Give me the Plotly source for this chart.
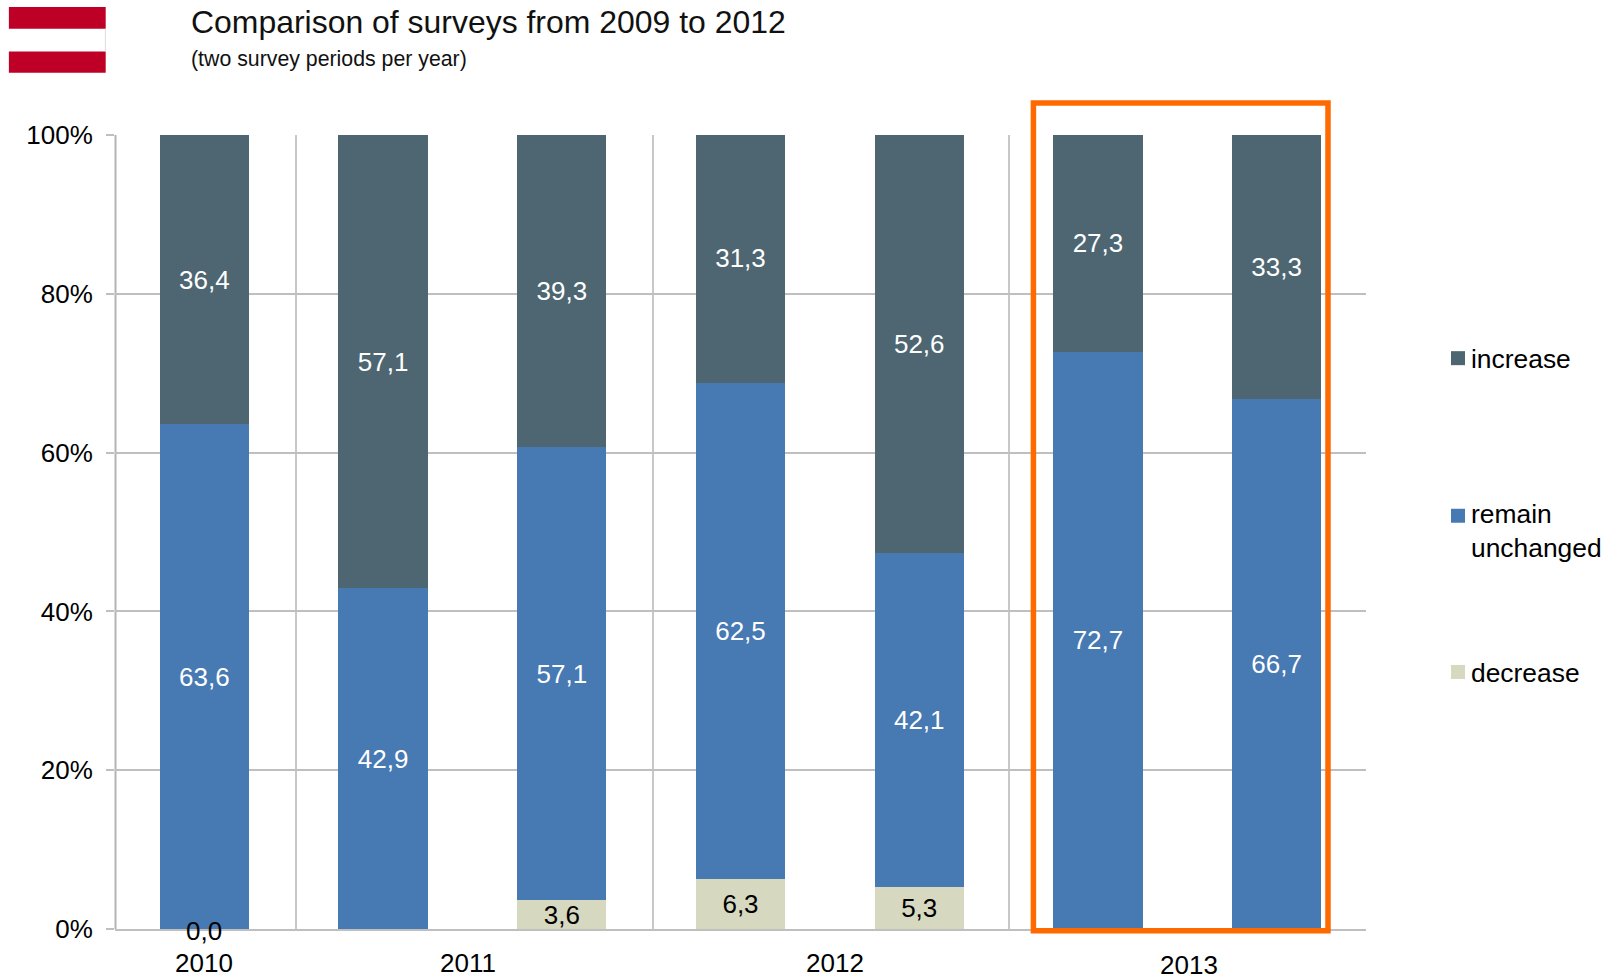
import plotly.graph_objects as go

W, H = 1615, 979
L, R, T, B = 115.3, 1366.0, 135.0, 929.5

bar_positions = [0, 1, 2, 3, 4, 5, 6]
increase = [36.4, 57.1, 39.3, 31.3, 52.6, 27.3, 33.3]
remain = [63.6, 42.9, 57.1, 62.5, 42.1, 72.7, 66.7]
decrease = [0.0, None, 3.6, 6.3, 5.3, None, None]
year_labels = ["2010", "2011", "2012", "2013"]
year_positions = [0.0, 1.474, 3.527, 5.51]
year_label_y = [963.7, 963.7, 963.7, 966]
year_separators = [0.51, 2.51, 4.505]
y_ticks = [0, 20, 40, 60, 80, 100]
y_tick_labels = ["0%", "20%", "40%", "60%", "80%", "100%"]
series_names = ["increase", "remain<br>unchanged", "decrease"]
legend_swatch_y = [358.3, 516, 672.3]
legend_text_y = [359, 531, 673]

C_INC, C_REM, C_DEC = "#4D6672", "#4779B3", "#D6D9C0"
C_GRID = "#BFBFBF"
FONT = "Liberation Sans"


def px(x):
    return (x - L) / (R - L)


def py(y):
    return (B - y) / (B - T)


def lab(v):
    return [("" if (a is None or a == 0) else f"{a:.1f}".replace(".", ",")) for a in v]


fig = go.Figure()
for name, vals, color, tcolor in [
    ("decrease", decrease, C_DEC, "black"),
    ("remain unchanged", remain, C_REM, "white"),
    ("increase", increase, C_INC, "white"),
]:
    fig.add_trace(go.Bar(
        x=bar_positions, y=vals, name=name, width=0.5,
        marker=dict(color=color, line=dict(width=0)),
        text=lab(vals), textposition="inside", insidetextanchor="middle",
        textangle=0, constraintext="none",
        textfont=dict(family=FONT, size=26, color=tcolor),
        hoverinfo="skip",
    ))

shapes = [
    dict(type="rect", xref="paper", yref="paper", x0=px(9.2), x1=px(106), y0=py(28.7), y1=py(7),
         fillcolor="#BE0027", line_width=0, layer="above"),
    dict(type="rect", xref="paper", yref="paper", x0=px(9.2), x1=px(106), y0=py(72.7), y1=py(51.5),
         fillcolor="#BE0027", line_width=0, layer="above"),
    dict(type="line", xref="paper", yref="paper", x0=px(105.7), x1=px(105.7), y0=py(51.5), y1=py(28.7),
         line=dict(color="#DDDDDD", width=1), layer="above"),
    dict(type="line", xref="paper", yref="paper", x0=px(115.8), x1=px(115.8), y0=0, y1=1,
         line=dict(color="#B4B4B4", width=2), layer="below"),
    dict(type="rect", xref="paper", yref="paper", x0=px(1033.5), x1=px(1328), y0=py(931.3), y1=py(103),
         fillcolor="rgba(0,0,0,0)", line=dict(color="#FF6A00", width=5.5), layer="above"),
]

annotations = [
    dict(xref="paper", yref="paper", x=px(189), y=py(59), xanchor="left", yanchor="middle", showarrow=False,
         text="(two survey periods per year)", font=dict(family=FONT, size=21.3, color="#111111")),
    dict(xref="x", yref="y", x=bar_positions[0], y=decrease[0], yanchor="middle", showarrow=False, yshift=-2,
         text=f"{decrease[0]:.1f}".replace(".", ","), font=dict(family=FONT, size=26, color="black")),
]
for t, xp, yp in zip(year_labels, year_positions, year_label_y):
    annotations.append(dict(
        xref="x", yref="paper", x=xp, y=py(yp), yanchor="middle", showarrow=False,
        text=t, font=dict(family=FONT, size=26, color="black")))

for name, color, sy, ty in zip(series_names, [C_INC, C_REM, C_DEC], legend_swatch_y, legend_text_y):
    shapes.append(dict(type="rect", xref="paper", yref="paper", x0=px(1451), x1=px(1465), y0=py(sy + 7), y1=py(sy - 7),
                       fillcolor=color, line_width=0))
    annotations.append(dict(xref="paper", yref="paper", x=px(1469), y=py(ty), xanchor="left", yanchor="middle",
                            align="left", showarrow=False, text=name,
                            font=dict(family=FONT, size=26.4, color="black")))

fig.update_layout(
    width=W, height=H,
    margin=dict(l=L, r=W - R, t=T, b=H - B, autoexpand=False),
    barmode="stack", paper_bgcolor="white", plot_bgcolor="white",
    font=dict(family=FONT, size=26, color="black"),
    title=dict(text="Comparison of surveys from 2009 to 2012", xref="container", yref="container",
               x=191 / W, y=1 - 22 / H, xanchor="left", yanchor="middle",
               font=dict(family=FONT, size=31.95, color="#111111")),
    xaxis=dict(range=[-0.5, 6.5], tickvals=year_separators, ticktext=["", "", ""], showgrid=True,
               gridcolor="#C8C8C8", gridwidth=2, zeroline=False, showline=True, linecolor=C_GRID, linewidth=2,
               ticks=""),
    yaxis=dict(range=[0, 100], tickvals=y_ticks, ticktext=y_tick_labels, showgrid=True, gridcolor=C_GRID, gridwidth=2,
               zeroline=False, showline=False,
               ticks="outside", ticklen=8, tickwidth=2, tickcolor=C_GRID,
               tickfont=dict(family=FONT, size=26, color="black"), ticklabelstandoff=8),
    showlegend=False,
    bargap=0.5,
    shapes=shapes, annotations=annotations,
)
fig.write_html("out.html", config={"displayModeBar": False},
               post_script="document.body.style.margin='0';document.body.style.overflow='hidden';")
